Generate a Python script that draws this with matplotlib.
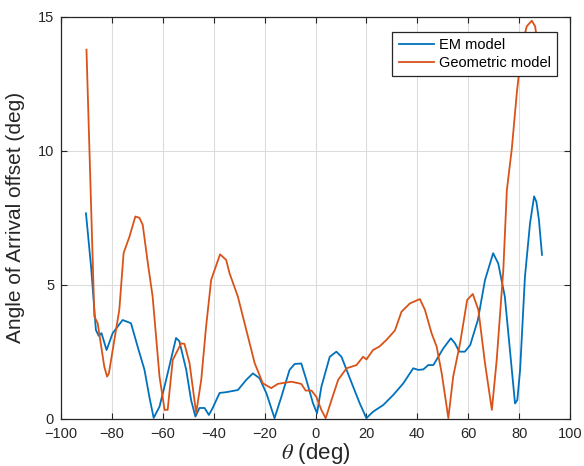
import matplotlib
matplotlib.use("Agg")
from matplotlib import pyplot as plt

plt.rcParams['font.family'] = ['Liberation Sans', 'DejaVu Sans']
plt.rcParams['mathtext.fontset'] = 'stix'

# Angle of arrival offset vs. incidence angle, two models
theta_em = [-90.2, -88.2, -86.3, -85.2, -84.1, -82.1, -79.7, -75.8, -72.5, -69.9,
            -67.2, -65.3, -63.6, -61.3, -58.7, -54.8, -53.5, -50.8, -48.9, -47.2,
            -45.6, -43.6, -41.9, -40.4, -37.7, -35.1, -30.5, -27.2, -24.6, -22.0,
            -19.3, -16.1, -13.4, -10.2, -8.2, -5.6, -3.6, -1.0, 0.6, 2.3,
            5.6, 8.2, 10.2, 14.8, 17.4, 20.0, 22.6, 26.6, 30.6, 34.5,
            38.4, 40.4, 42.4, 44.3, 46.3, 50.2, 53.2, 54.8, 56.5, 58.7,
            60.8, 63.8, 66.6, 69.8, 71.8, 74.4, 76.4, 78.4, 79.3, 80.4,
            82.3, 84.3, 85.9, 86.8, 87.8, 89.0]
aoa_em = [7.67, 5.68, 3.32, 3.1, 3.2, 2.57, 3.2, 3.69, 3.57, 2.7,
          1.83, 0.83, 0.04, 0.46, 1.46, 3.02, 2.9, 1.83, 0.71, 0.09,
          0.41, 0.41, 0.15, 0.41, 0.97, 1.0, 1.08, 1.46, 1.7, 1.52,
          0.96, 0.03, 0.83, 1.83, 2.05, 2.07, 1.46, 0.59, 0.21, 1.2,
          2.32, 2.51, 2.32, 1.2, 0.58, 0.03, 0.27, 0.52, 0.9, 1.33,
          1.89, 1.83, 1.85, 2.01, 2.01, 2.63, 3.01, 2.82, 2.51, 2.51,
          2.76, 3.69, 5.18, 6.18, 5.8, 4.56, 2.57, 0.58, 0.71, 1.83,
          5.3, 7.3, 8.3, 8.1, 7.42, 6.12]

theta_geo = [-90.0, -86.9, -85.6, -83.0, -81.9, -81.2, -77.1, -75.4, -73.1, -70.8,
             -69.2, -67.9, -65.9, -64.0, -61.3, -59.3, -58.1, -56.1, -52.8, -51.5,
             -49.5, -46.9, -44.9, -43.0, -41.0, -37.5, -35.1, -33.8, -30.5, -27.2,
             -23.9, -20.7, -17.4, -14.8, -9.5, -5.6, -3.9, -1.6, 0.3, 2.3,
             4.0, 6.3, 8.9, 12.2, 16.1, 18.7, 20.0, 22.6, 25.1, 27.9,
             31.2, 33.8, 37.1, 41.0, 43.0, 45.6, 47.6, 49.6, 52.2, 54.1,
             56.8, 59.6, 61.8, 64.0, 66.6, 69.3, 71.2, 73.8, 75.2, 77.1,
             79.1, 81.1, 83.0, 85.0, 86.3, 88.0]
aoa_geo = [13.77, 3.82, 3.57, 1.95, 1.58, 1.7, 4.07, 6.19, 6.8, 7.55,
           7.5, 7.24, 5.82, 4.56, 1.58, 0.34, 0.34, 2.2, 2.82, 2.8,
           2.08, 0.22, 1.46, 3.44, 5.19, 6.14, 5.93, 5.44, 4.56, 3.32,
           2.08, 1.33, 1.15, 1.31, 1.39, 1.31, 1.06, 1.06, 0.83, 0.34,
           0.03, 0.71, 1.46, 1.89, 2.01, 2.32, 2.22, 2.57, 2.7, 2.95,
           3.3, 4.0, 4.31, 4.47, 4.07, 3.2, 2.7, 1.7, 0.03, 1.58,
           2.82, 4.44, 4.66, 4.07, 2.08, 0.34, 2.2, 5.56, 8.54, 10.04,
           12.15, 13.89, 14.64, 14.85, 14.64, 13.5]

xticks = list(range(-100, 101, 20))
yticks = [0, 5, 10, 15]

fig = plt.figure(figsize=(5.84, 4.66), dpi=100)
ax = fig.add_axes([0.1045, 0.1009, 0.8715, 0.8633])

ax.plot(theta_em, aoa_em, color='#0072BD', lw=1.3, label='EM model')
ax.plot(theta_geo, aoa_geo, color='#D95319', lw=1.3, label='Geometric model')

ax.set_xlim(-100, 100)
ax.set_ylim(0, 15)
ax.set_xticks(xticks)
ax.set_yticks(yticks)
ax.grid(True, color='#dcdcdc', lw=0.8)
ax.set_axisbelow(True)
ax.tick_params(direction='in', top=True, right=True, length=4, width=0.8,
               labelsize=10.5, colors='#262626')
ax.tick_params(axis='x', pad=6)
ax.tick_params(axis='y', pad=5)
for s in ax.spines.values():
    s.set_color('#262626')
    s.set_linewidth(0.9)

ax.set_xlabel(r'$\theta$ (deg)', fontsize=16, color='#262626', labelpad=0)
ax.set_ylabel('Angle of Arrival offset (deg)', fontsize=15, color='#262626', labelpad=9)

leg = ax.legend(loc='upper right', bbox_to_anchor=(0.974, 0.9627), fontsize=10.5,
                fancybox=False, edgecolor='#262626', framealpha=1,
                handlelength=2.4, borderpad=0.42, labelspacing=0.3,
                handletextpad=0.35, borderaxespad=0)
leg.get_frame().set_linewidth(0.9)

fig.savefig('out.png', dpi=100)
